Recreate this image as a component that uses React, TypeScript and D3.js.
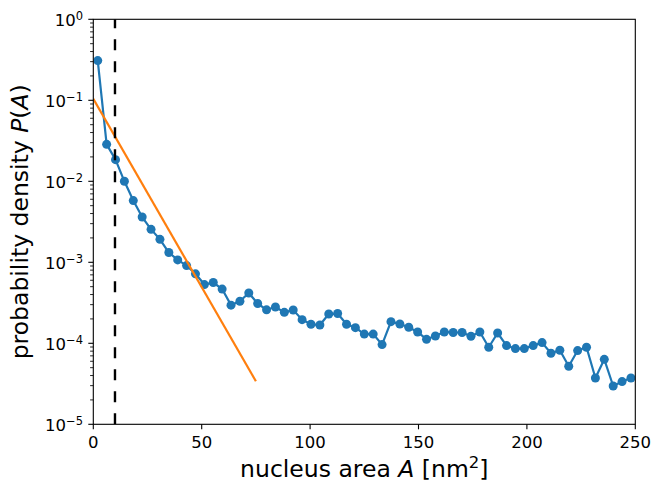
import React from 'react';
import * as d3 from 'd3';

// bin centres of nucleus area A [nm^2]
const areaBins = [
  2.05, 6.15, 10.25, 14.34, 18.44, 22.54, 26.64, 30.74, 34.84, 38.93,
  43.03, 47.13, 51.23, 55.33, 59.43, 63.52, 67.62, 71.72, 75.82, 79.92,
  84.02, 88.11, 92.21, 96.31, 100.41, 104.51, 108.61, 112.7, 116.8, 120.9,
  125.0, 129.1, 133.2, 137.3, 141.4, 145.5, 149.6, 153.7, 157.8, 161.9,
  166.0, 170.1, 174.2, 178.3, 182.4, 186.5, 190.6, 194.7, 198.8, 202.9,
  207.0, 211.1, 215.2, 219.3, 223.4, 227.5, 231.6, 235.7, 239.8, 243.9, 248.0,
];

// probability density P(A)
const density = [
  0.309, 0.0286, 0.0185, 0.0100, 0.00578, 0.00362, 0.00255, 0.00192, 0.00132, 0.00107,
  0.00091, 0.000721, 0.000531, 0.000563, 0.000467, 0.000296, 0.00033, 0.000418, 0.00031, 0.000259,
  0.000281, 0.000241, 0.000258, 0.000196, 0.000172, 0.000168, 0.00023, 0.000233, 0.000172, 0.000156,
  0.00013, 0.00013, 0.0000964, 0.000185, 0.000173, 0.000158, 0.000138, 0.000112, 0.000123, 0.000138,
  0.000136, 0.000136, 0.000122, 0.000138, 0.0000893, 0.000134, 0.0000937, 0.0000861, 0.0000861, 0.0000937,
  0.000102, 0.0000753, 0.000082, 0.000052, 0.0000813, 0.0000893, 0.0000373, 0.0000634, 0.0000297, 0.0000337,
  0.0000373,
];

// exponential fit (straight line on log axis) endpoints
const fitArea = [0, 75];
const fitDensity = [0.104, 0.000034];

const cutoffArea = 10;

const xTicks = [0, 50, 100, 150, 200, 250];
const yExponents = [0, -1, -2, -3, -4, -5];
const yExponentLabels = ['0', '\u22121', '\u22122', '\u22123', '\u22124', '\u22125'];
const minorMultipliers = [2, 3, 4, 5, 6, 7, 8, 9];

const BLUE = '#1f77b4';
const ORANGE = '#ff7f0e';
const FONT = 'DejaVu Sans, sans-serif';

export default function App() {
  const W = 652;
  const H = 481;
  const left = 93.3;
  const right = 635.3;
  const top = 19.3;
  const bottom = 424.3;

  const x = d3.scaleLinear().domain([0, 250]).range([left, right]);
  const y = d3.scaleLog().domain([1e-5, 1]).range([bottom, top]);

  const dataLine = d3
    .line<number>()
    .x((_, i) => x(areaBins[i]))
    .y((d) => y(d))(density) as string;

  const fitLine = d3
    .line<number>()
    .x((_, i) => x(fitArea[i]))
    .y((d) => y(d))(fitDensity) as string;

  const minorVals: number[] = [];
  yExponents.slice(1).forEach((e) => {
    minorMultipliers.forEach((m) => minorVals.push(m * Math.pow(10, e)));
  });

  const cx = (left + right) / 2;
  const cy = (top + bottom) / 2;

  return (
    <svg
      width={W}
      height={H}
      style={{ position: 'absolute', left: 0, top: 0, background: '#fff' }}
      fontFamily={FONT}
    >
      <defs>
        <clipPath id="plotClip">
          <rect x={left} y={top} width={right - left} height={bottom - top} />
        </clipPath>
      </defs>
      <rect x={0} y={0} width={W} height={H} fill="#fff" />

      <g clipPath="url(#plotClip)">
        <path d={dataLine} fill="none" stroke={BLUE} strokeWidth={2.2} strokeLinejoin="round" />
        {density.map((d, i) => (
          <circle key={i} cx={x(areaBins[i])} cy={y(d)} r={4.5} fill={BLUE} />
        ))}
        <path d={fitLine} fill="none" stroke={ORANGE} strokeWidth={2.2} />
        <line
          x1={x(cutoffArea)}
          x2={x(cutoffArea)}
          y1={y(1e-5)}
          y2={y(1)}
          stroke="#000"
          strokeWidth={2.4}
          strokeDasharray="11,11"
        />
      </g>

      {/* spines */}
      <rect x={left} y={top} width={right - left} height={bottom - top} fill="none" stroke="#000" strokeWidth={1.1} />

      {/* x ticks */}
      {xTicks.map((t) => (
        <g key={'x' + t}>
          <line x1={x(t)} x2={x(t)} y1={bottom} y2={bottom + 5} stroke="#000" strokeWidth={1.1} />
          <text x={x(t)} y={448.3} textAnchor="middle" fontSize={16.5} fill="#000">
            {t}
          </text>
        </g>
      ))}

      {/* y major ticks */}
      {yExponents.map((e, i) => {
        const yy = y(Math.pow(10, e));
        return (
          <g key={'y' + e}>
            <line x1={left - 5} x2={left} y1={yy} y2={yy} stroke="#000" strokeWidth={1.1} />
            <text x={83} y={yy + 7} textAnchor="end" fontSize={16.5} fill="#000">
              10
              <tspan fontSize={11.5} dy={-6}>
                {yExponentLabels[i]}
              </tspan>
            </text>
          </g>
        );
      })}

      {/* y minor ticks */}
      {minorVals.map((v, i) => (
        <line key={'m' + i} x1={left - 3.2} x2={left} y1={y(v)} y2={y(v)} stroke="#000" strokeWidth={0.85} />
      ))}

      {/* axis labels */}
      <text x={cx} y={477} textAnchor="middle" fontSize={23.5} fill="#000">
        nucleus area <tspan fontStyle="italic">A</tspan> [nm
        <tspan fontSize={16.5} dy={-9.5}>2</tspan>
        <tspan dy={9.5}>]</tspan>
      </text>
      <text
        transform={`translate(28, ${cy}) rotate(-90)`}
        textAnchor="middle"
        fontSize={23.5}
        fill="#000"
      >
        probability density <tspan fontStyle="italic">P</tspan>(<tspan fontStyle="italic">A</tspan>)
      </text>
    </svg>
  );
}
